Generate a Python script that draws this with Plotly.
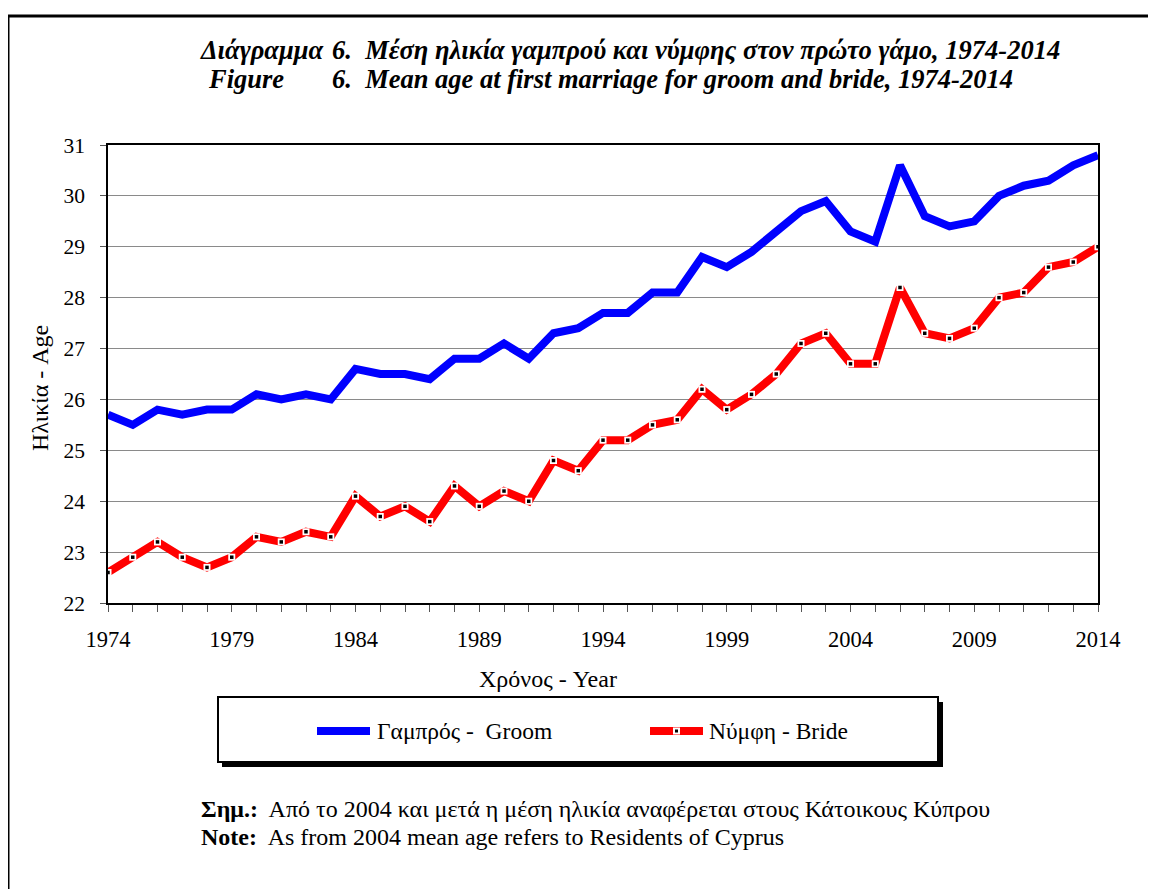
import plotly.graph_objects as go

years = list(range(1974, 2015))
groom = [25.7, 25.5, 25.8, 25.7, 25.8, 25.8, 26.1, 26.0, 26.1, 26.0,
         26.6, 26.5, 26.5, 26.4, 26.8, 26.8, 27.1, 26.8, 27.3, 27.4,
         27.7, 27.7, 28.1, 28.1, 28.8, 28.6, 28.9, 29.3, 29.7, 29.9,
         29.3, 29.1, 30.6, 29.6, 29.4, 29.5, 30.0, 30.2, 30.3, 30.6, 30.8]
bride = [22.6, 22.9, 23.2, 22.9, 22.7, 22.9, 23.3, 23.2, 23.4, 23.3,
         24.1, 23.7, 23.9, 23.6, 24.3, 23.9, 24.2, 24.0, 24.8, 24.6,
         25.2, 25.2, 25.5, 25.6, 26.2, 25.8, 26.1, 26.5, 27.1, 27.3,
         26.7, 26.7, 28.2, 27.3, 27.2, 27.4, 28.0, 28.1, 28.6, 28.7, 29.0]
groom_name = "Γαμπρός -  Groom"
bride_name = "Νύμφη - Bride"
x_ticks = [1974, 1979, 1984, 1989, 1994, 1999, 2004, 2009, 2014]
y_ticks = list(range(22, 32))

W, H = 1156, 889
OFF = 8  # page body margin
L, R, T, B = 108 - OFF, 1098 - OFF, 145 - OFF, 603 - OFF
SERIF = "Liberation Serif"


def px(x):
    return (x - OFF - L) / (R - L)


def py(y):
    return (B - (y - OFF)) / (B - T)


fig = go.Figure()
fig.add_trace(go.Scatter(x=years, y=groom, mode="lines", name=groom_name,
                         line=dict(color="#0000FF", width=8), showlegend=False))
fig.add_trace(go.Scatter(x=years, y=bride, mode="lines+markers", name=bride_name,
                         line=dict(color="#FF0000", width=8),
                         marker=dict(symbol="square", size=7, color="white", line=dict(width=0)),
                         showlegend=False))
fig.add_trace(go.Scatter(x=years, y=bride, mode="markers", hoverinfo="skip",
                         marker=dict(symbol="square", size=3.5, color="black", line=dict(width=0)),
                         showlegend=False))

shapes = []
# outer frame
shapes.append(dict(type="rect", xref="paper", yref="paper",
                   x0=px(8), x1=px(1180), y0=py(16), y1=py(910),
                   line=dict(color="black", width=3), fillcolor="rgba(0,0,0,0)", layer="below"))
# legend shadow + box
shapes.append(dict(type="rect", xref="paper", yref="paper",
                   x0=px(222), x1=px(943), y0=py(702), y1=py(767),
                   line=dict(width=0), fillcolor="black"))
shapes.append(dict(type="rect", xref="paper", yref="paper",
                   x0=px(218), x1=px(938), y0=py(697), y1=py(762),
                   line=dict(color="black", width=2), fillcolor="white"))
# legend samples
shapes.append(dict(type="line", xref="paper", yref="paper",
                   x0=px(317), x1=px(370), y0=py(731), y1=py(731),
                   line=dict(color="#0000FF", width=8)))
shapes.append(dict(type="line", xref="paper", yref="paper",
                   x0=px(650), x1=px(703), y0=py(731), y1=py(731),
                   line=dict(color="#FF0000", width=8)))
shapes.append(dict(type="rect", xref="paper", yref="paper",
                   x0=px(673), x1=px(680), y0=py(727.5), y1=py(734.5),
                   line=dict(width=0), fillcolor="white"))
shapes.append(dict(type="rect", xref="paper", yref="paper",
                   x0=px(675), x1=px(678), y0=py(729.5), y1=py(732.5),
                   line=dict(width=0), fillcolor="black"))

ann = []
tfont = dict(family=SERIF, size=26.5, color="black")


def text(x, y, s, font, xanchor="left", angle=0):
    ann.append(dict(xref="paper", yref="paper", x=px(x), y=py(y), text=s,
                    showarrow=False, xanchor=xanchor, yanchor="middle",
                    font=font, textangle=angle))


text(198, 50, "<b><i>Διάγραμμα</i></b>", tfont)
text(330, 50, "<b><i>6.  Μέση ηλικία γαμπρού και νύμφης στον πρώτο γάμο, 1974-2014</i></b>", tfont)
text(206, 79, "<b><i>Figure</i></b>", tfont)
text(330, 79, "<b><i>6.  Mean age at first marriage for groom and bride, 1974-2014</i></b>", tfont)

afont = dict(family=SERIF, size=24, color="black")
text(548, 679, "Χρόνος - Year", afont, xanchor="center")
text(40, 388, "Ηλικία - Age", afont, xanchor="center", angle=-90)

lfont = dict(family=SERIF, size=23.5, color="black")
text(375, 731, groom_name, lfont)
text(707, 731, bride_name, lfont)

nfont = dict(family=SERIF, size=24, color="black")
text(199, 809, "<b>Σημ.:</b>  Από το 2004 και μετά η μέση ηλικία αναφέρεται στους Κάτοικους Κύπρου", nfont)
text(199, 837, "<b>Note:</b>  As from 2004 mean age refers to Residents of Cyprus", nfont)

fig.update_layout(
    width=W, height=H,
    margin=dict(l=L, r=W - R, t=T, b=H - B, pad=0),
    paper_bgcolor="white", plot_bgcolor="white",
    shapes=shapes, annotations=ann,
    showlegend=False,
    font=dict(family=SERIF, color="black"),
)
fig.update_xaxes(
    range=[1974, 2014], tickvals=x_ticks, ticktext=[str(v) for v in x_ticks],
    ticks="outside", ticklen=7, tickcolor="#555", tickwidth=1,
    minor=dict(dtick=1, tick0=1974, ticks="outside", ticklen=7, tickcolor="#555", showgrid=False),
    showgrid=False, showline=True, linecolor="black", linewidth=1.5, mirror=True,
    tickfont=dict(family=SERIF, size=22.5, color="black"), ticklabelstandoff=8,
    zeroline=False,
)
fig.update_yaxes(
    range=[22, 31], tickvals=y_ticks, ticks="outside", ticklen=6, tickcolor="#555",
    showgrid=True, gridcolor="#8a8a8a", gridwidth=1,
    showline=True, linecolor="black", linewidth=1.5, mirror=True,
    tickfont=dict(family=SERIF, size=21.5, color="black"), ticklabelstandoff=11,
    zeroline=False,
)

fig.write_html("out.html")
